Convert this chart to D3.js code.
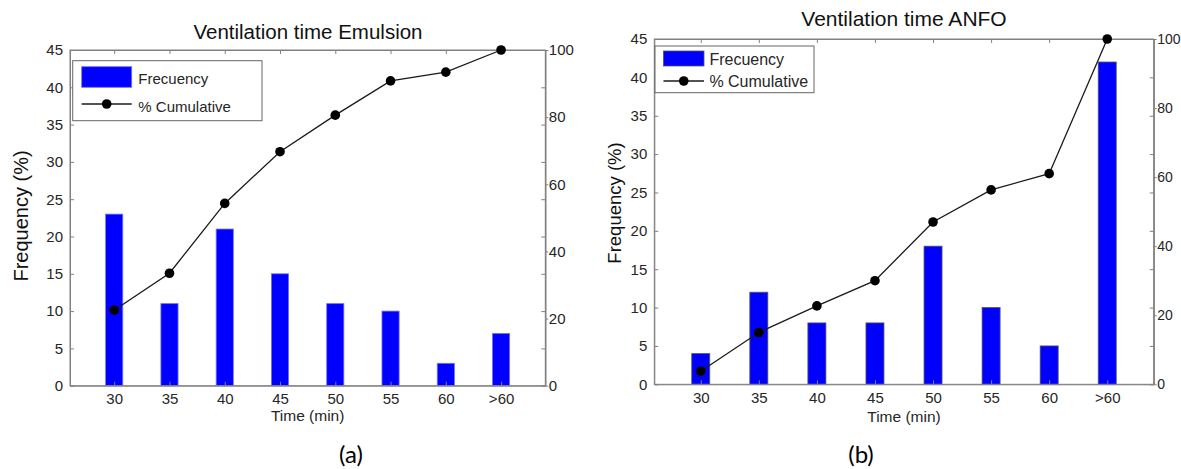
<!DOCTYPE html>
<html lang="en">
<head>
  <meta charset="UTF-8">
  <title>Ventilation time</title>
  <script src="https://d3js.org/d3.v7.min.js"></script>
  <style>
    body { margin: 0; background: #fff; overflow: hidden; }
    svg { display: block; }
  </style>
</head>
<body>
  <script>
    // data
    const categories = ["30", "35", "40", "45", "50", "55", "60", ">60"];
    const emulsionFreq = [23, 11, 21, 15, 11, 10, 3, 7];
    const emulsionCum = [22.5, 33.5, 54.3, 69.7, 80.6, 90.8, 93.4, 100];
    const anfoFreq = [4, 12, 8, 8, 18, 10, 5, 42];
    const anfoCum = [3.8, 15, 22.7, 30, 47, 56.3, 61, 100];
    const freqTicks = [0, 5, 10, 15, 20, 25, 30, 35, 40, 45];
    const cumTicks = [0, 20, 40, 60, 80, 100];
    const legendLabels = ["Frecuency", "% Cumulative"];

    const FONT = "'Liberation Sans', Arial, Helvetica, sans-serif";
    const AXIS = "#808080";
    const TXT = "#262626";
    const barW = 0.31;

    const svg = d3.select("body").append("svg")
      .attr("width", 1181)
      .attr("height", 469)
      .attr("font-family", FONT);

    function styleAxis(sel, size) {
      sel.attr("font-size", size).attr("font-family", FONT);
      sel.select(".domain").attr("stroke", AXIS);
      sel.selectAll(".tick line").attr("stroke", AXIS);
      sel.selectAll(".tick text").attr("fill", TXT);
    }

    function drawChart(o) {
      const g = svg.append("g");
      const x = d3.scaleLinear().domain([0.2, 8.8]).range([o.x0, o.x1]);
      const yL = d3.scaleLinear().domain([0, 45]).range([o.y1, o.y0]);
      const yR = d3.scaleLinear().domain([0, 100]).range([o.y1, o.y0]);

      // bars
      g.append("g").selectAll("rect")
        .data(o.freq)
        .join("rect")
        .attr("x", (d, i) => x(i + 1 - barW / 2))
        .attr("width", x(1 + barW) - x(1))
        .attr("y", d => yL(d))
        .attr("height", d => yL(0) - yL(d))
        .attr("fill", "#0000ff")
        .attr("stroke", o.barStroke)
        .attr("stroke-width", 0.8);

      // box
      g.append("rect")
        .attr("x", o.x0).attr("y", o.y0)
        .attr("width", o.x1 - o.x0).attr("height", o.y1 - o.y0)
        .attr("fill", "none").attr("stroke", AXIS);

      const idx = d3.range(1, 9);
      g.append("g")
        .attr("transform", `translate(0,${o.y1})`)
        .call(d3.axisBottom(x).tickValues(idx).tickFormat(i => categories[i - 1])
          .tickSizeInner(-4).tickSizeOuter(0).tickPadding(8))
        .call(s => styleAxis(s, o.tickSize));

      g.append("g")
        .attr("transform", `translate(0,${o.y0})`)
        .call(d3.axisTop(x).tickValues(idx).tickFormat("")
          .tickSizeInner(-4).tickSizeOuter(0))
        .call(s => styleAxis(s, o.tickSize));

      g.append("g")
        .attr("transform", `translate(${o.x0},0)`)
        .call(d3.axisLeft(yL).tickValues(freqTicks)
          .tickSizeInner(-4).tickSizeOuter(0).tickPadding(7))
        .call(s => styleAxis(s, o.tickSize));

      g.append("g")
        .attr("transform", `translate(${o.x1},0)`)
        .call(d3.axisRight(yL).tickValues(freqTicks).tickFormat("")
          .tickSizeInner(-4).tickSizeOuter(0))
        .call(s => styleAxis(s, o.tickSize));

      g.append("g")
        .attr("transform", `translate(${o.x1},0)`)
        .call(d3.axisRight(yR).tickValues(cumTicks)
          .tickSizeInner(3).tickSizeOuter(0).tickPadding(0.5))
        .call(s => styleAxis(s, o.rightTickSize));

      // cumulative line
      const line = d3.line().x((d, i) => x(i + 1)).y(d => yR(d));
      g.append("path")
        .datum(o.cum)
        .attr("d", line)
        .attr("fill", "none")
        .attr("stroke", "#1a1a1a")
        .attr("stroke-width", 1.3);
      g.append("g").selectAll("circle")
        .data(o.cum)
        .join("circle")
        .attr("cx", (d, i) => x(i + 1))
        .attr("cy", d => yR(d))
        .attr("r", 4.8)
        .attr("fill", "#000");

      // texts
      g.append("text")
        .attr("x", o.titleX).attr("y", o.titleY)
        .attr("text-anchor", "middle")
        .attr("font-size", o.titleSize)
        .attr("fill", "#111")
        .text(o.title);

      g.append("text")
        .attr("transform", `translate(${o.ylabX},${o.ylabY}) rotate(-90)`)
        .attr("text-anchor", "middle")
        .attr("dominant-baseline", "central")
        .attr("font-size", o.ylabSize)
        .attr("fill", "#111")
        .text("Frequency (%)");

      g.append("text")
        .attr("x", (o.x0 + o.x1) / 2).attr("y", o.xlabY)
        .attr("text-anchor", "middle")
        .attr("font-size", o.xlabSize)
        .attr("fill", TXT)
        .text("Time (min)");

      // legend
      const L = o.legend;
      const lg = g.append("g");
      lg.append("rect")
        .attr("x", L.bx).attr("y", L.by)
        .attr("width", L.bw).attr("height", L.bh)
        .attr("fill", "#fff").attr("stroke", "#666");
      lg.append("rect")
        .attr("x", L.sx).attr("y", L.sy)
        .attr("width", L.sw).attr("height", L.sh)
        .attr("fill", "#0000ff")
        .attr("stroke", o.barStroke).attr("stroke-width", 0.8);
      lg.append("line")
        .attr("x1", L.sx).attr("x2", L.sx + L.sw)
        .attr("y1", L.ly).attr("y2", L.ly)
        .attr("stroke", "#1a1a1a").attr("stroke-width", 1.3);
      lg.append("circle")
        .attr("cx", L.sx + L.sw / 2).attr("cy", L.ly)
        .attr("r", 4.8).attr("fill", "#000");
      lg.selectAll("text")
        .data(legendLabels)
        .join("text")
        .attr("x", L.tx)
        .attr("y", (d, i) => i === 0 ? L.t1y : L.t2y)
        .attr("font-size", L.fs)
        .attr("fill", TXT)
        .text(d => d);

      svg.append("text")
        .attr("x", o.panelX).attr("y", 463)
        .attr("text-anchor", "middle")
        .attr("font-family", "Lato, 'Open Sans', sans-serif")
        .attr("font-size", 24)
        .attr("fill", "#000")
        .text(o.panel);
    }

    drawChart({
      x0: 70, x1: 545.3, y0: 50, y1: 385.7,
      freq: emulsionFreq, cum: emulsionCum,
      title: "Ventilation time Emulsion", titleX: 308, titleY: 39, titleSize: 20.5,
      ylabX: 21, ylabY: 216, ylabSize: 20,
      xlabY: 420.7, xlabSize: 15.5, tickSize: 15, rightTickSize: 15,
      barStroke: "#6f6fff",
      legend: { bx: 72.7, by: 60.7, bw: 189.3, bh: 60, sx: 81.7, sy: 66.7, sw: 50, sh: 20.6,
                tx: 138.3, t1y: 84, t2y: 111.7, ly: 104, fs: 15 },
      panel: "(a)", panelX: 351
    });

    drawChart({
      x0: 654.3, x1: 1153.7, y0: 39, y1: 384.3,
      freq: anfoFreq, cum: anfoCum,
      title: "Ventilation time ANFO", titleX: 904, titleY: 26, titleSize: 21,
      ylabX: 614, ylabY: 203, ylabSize: 18.5,
      xlabY: 421.7, xlabSize: 15.5, tickSize: 15, rightTickSize: 14,
      barStroke: "#555",
      legend: { bx: 655, by: 46, bw: 159, bh: 46.7, sx: 663.5, sy: 51, sw: 40.5, sh: 15,
                tx: 709.4, t1y: 65, t2y: 86.7, ly: 81, fs: 16 },
      panel: "(b)", panelX: 861
    });
  </script>
</body>
</html>
